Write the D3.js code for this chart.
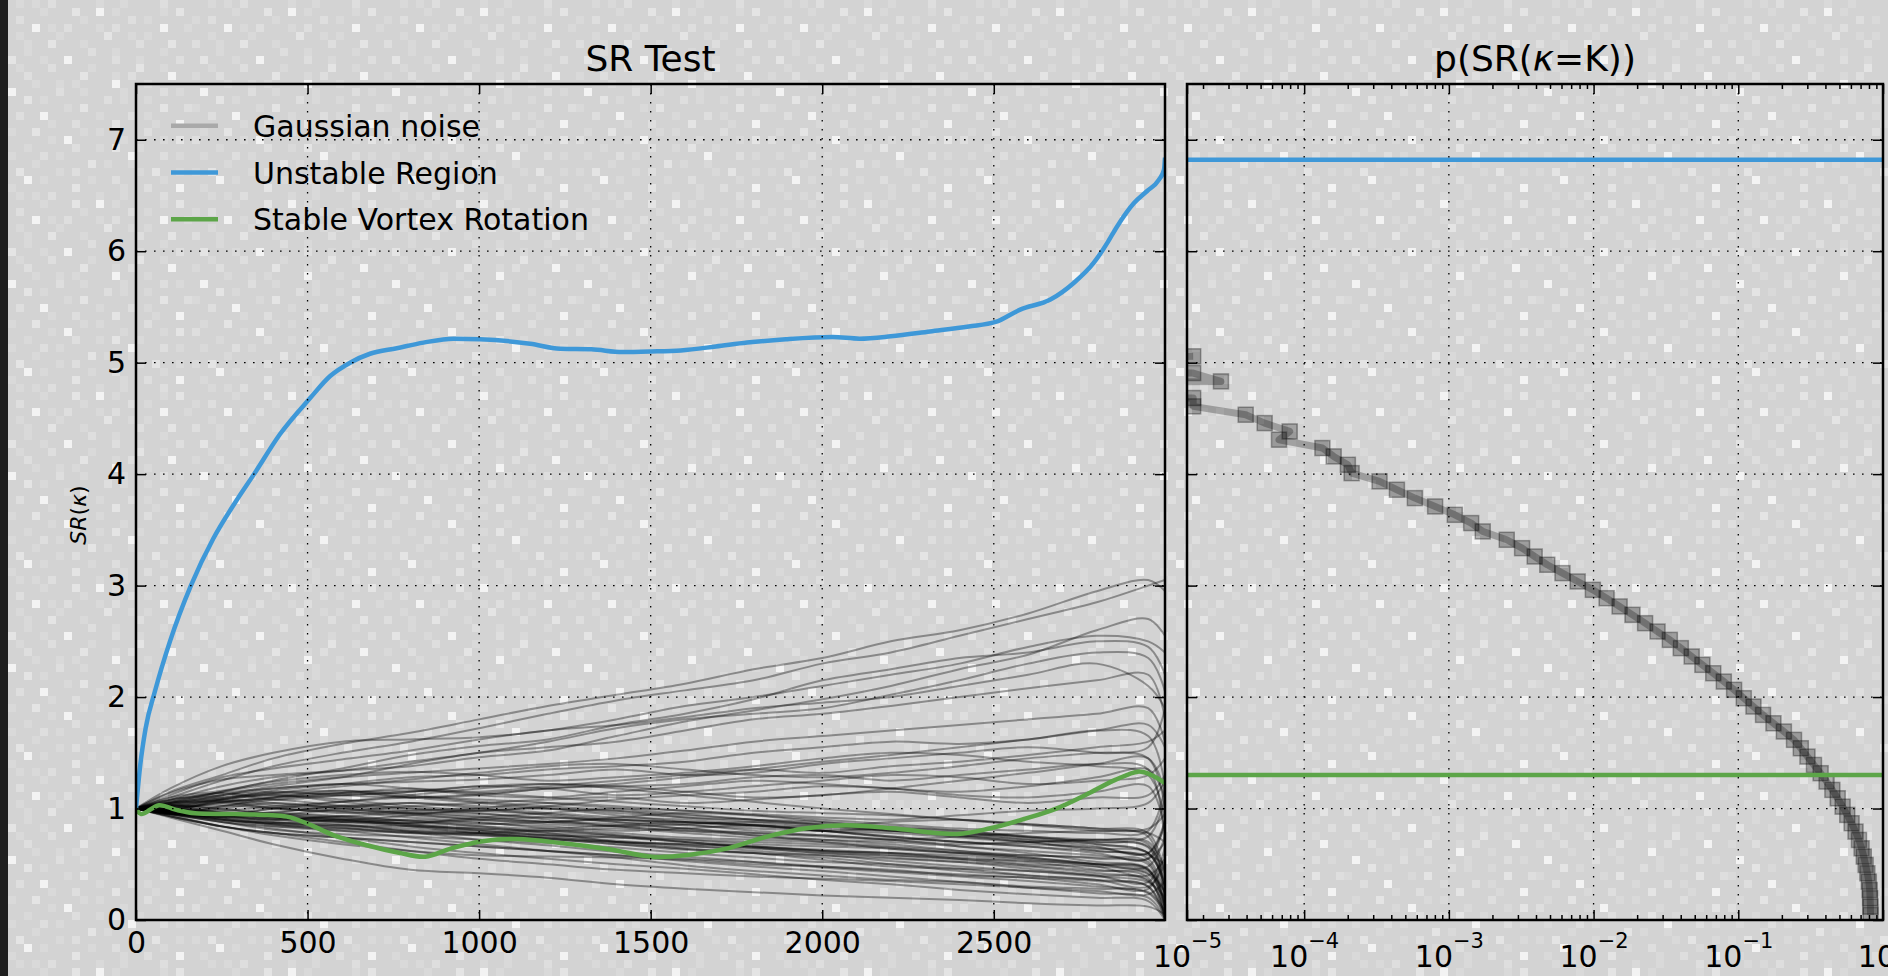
<!DOCTYPE html>
<html><head><meta charset="utf-8">
<script src="https://cdn.jsdelivr.net/npm/d3@7"></script>
<style>html,body{margin:0;padding:0;background:#d3d3d3;overflow:hidden}</style>
</head><body><svg id="c" width="1888" height="976"></svg>
<script>
// ---------------- DATA ----------------
const xTicks = [0, 500, 1000, 1500, 2000, 2500];
const yTicks = [0, 1, 2, 3, 4, 5, 6, 7];
const legendLabels = ["Gaussian noise", "Unstable Region", "Stable Vortex Rotation"];

const blueX = [0,3,12,28,55,99,160,225,290,344,420,507,566,624,682,760,838,925,1002,1149,1236,1327,1417,1501,1588,1690,1781,1894,2030,2109,2200,2314,2427,2505,2577,2665,2733,2791,2830,2859,2908,2947,2981,2996,2999];
const blueY = [1.0,1.1,1.38,1.72,2.05,2.5,3.0,3.42,3.75,4.0,4.36,4.68,4.88,5.0,5.08,5.13,5.18,5.215,5.21,5.17,5.125,5.12,5.095,5.10,5.11,5.145,5.18,5.21,5.23,5.215,5.236,5.28,5.325,5.365,5.476,5.566,5.715,5.895,6.07,6.22,6.43,6.54,6.64,6.73,6.84];

const greenX = [0,15,67,115,172,287,383,440,498,575,670,766,843,919,1015,1111,1245,1379,1504,1609,1724,1839,1954,2069,2203,2394,2490,2586,2682,2777,2854,2921,2959,2999];
const greenY = [1.0,0.95,1.03,0.99,0.957,0.951,0.942,0.927,0.867,0.762,0.673,0.604,0.568,0.643,0.709,0.727,0.688,0.634,0.568,0.583,0.643,0.748,0.823,0.85,0.823,0.772,0.823,0.904,1.0,1.137,1.257,1.331,1.301,1.227];

const noiseX = [0,100,250,400,600,800,1000,1200,1400,1600,1800,2000,2200,2400,2600,2800,2950,2999];
const noiseY = [
 [1,1.15,1.3,1.45,1.58,1.68,1.8,1.92,2.02,2.12,2.25,2.35,2.5,2.6,2.75,2.95,3.05,2.95],
 [1,1.1,1.25,1.38,1.5,1.6,1.72,1.85,1.97,2.06,2.15,2.3,2.4,2.55,2.7,2.85,3.0,3.05],
 [1,1.18,1.38,1.5,1.6,1.62,1.64,1.7,1.8,1.92,2.0,2.1,2.2,2.3,2.45,2.55,2.5,2.4],
 [1,1.05,1.15,1.25,1.36,1.48,1.56,1.62,1.75,1.85,1.98,2.15,2.25,2.35,2.4,2.5,2.45,2.2],
 [1,1.12,1.28,1.36,1.44,1.52,1.62,1.7,1.75,1.82,1.9,1.95,2.0,2.1,2.2,2.3,2.1,1.9],
 [1,1.08,1.2,1.28,1.34,1.42,1.5,1.6,1.72,1.8,1.85,1.9,2.02,2.15,2.3,2.4,2.35,2.05],
 [1,1.04,1.12,1.2,1.28,1.4,1.5,1.55,1.6,1.7,1.8,1.85,1.92,2.0,2.08,2.15,2.2,1.8],
 [1,1.14,1.26,1.3,1.34,1.38,1.46,1.52,1.65,1.78,1.88,1.98,2.1,2.25,2.38,2.6,2.7,2.55],
 [1,1.06,1.15,1.22,1.28,1.32,1.36,1.4,1.45,1.52,1.6,1.65,1.7,1.75,1.8,1.85,1.9,1.6],
 [1,0.98,1.08,1.16,1.22,1.28,1.3,1.35,1.38,1.42,1.5,1.55,1.6,1.58,1.62,1.7,1.65,1.2],
 [1,1.08,1.12,1.18,1.22,1.24,1.26,1.3,1.35,1.3,1.32,1.4,1.45,1.5,1.55,1.5,1.45,1.0],
 [1,1.04,1.09,1.13,1.14,1.18,1.15,1.2,1.25,1.3,1.35,1.32,1.38,1.42,1.48,1.55,1.6,1.7],
 [1,0.95,1.02,1.1,1.16,1.1,1.12,1.18,1.2,1.22,1.28,1.3,1.25,1.3,1.35,1.4,1.35,0.6],
 [1,1.07,1.14,1.08,1.12,1.15,1.2,1.18,1.12,1.15,1.2,1.25,1.3,1.28,1.22,1.25,1.3,1.45],
 [1,1.1,1.16,1.24,1.3,1.33,1.3,1.25,1.28,1.32,1.38,1.45,1.5,1.48,1.42,1.38,1.3,0.9],
 [1,0.99,1.05,1.0,0.98,1.02,1.05,1.08,1.1,1.05,1.08,1.12,1.15,1.1,1.05,1.1,1.12,1.3],
 [1,1.01,1.08,1.12,1.06,1.0,0.98,1.02,1.08,1.12,1.15,1.2,1.18,1.12,1.1,1.15,1.2,0.8],
 [1,0.96,0.93,1.0,1.06,1.12,1.18,1.22,1.2,1.15,1.1,1.12,1.18,1.25,1.32,1.4,1.45,1.15],
 [1,1.05,1.1,1.14,1.2,1.26,1.32,1.38,1.4,1.35,1.3,1.28,1.32,1.38,1.45,1.5,1.55,1.9],
 [1,1.08,1.14,1.18,1.22,1.18,1.12,1.1,1.15,1.2,1.25,1.22,1.18,1.15,1.2,1.28,1.35,1.1],
 [1,1.01,0.97,0.93,0.9,0.94,1.0,1.05,1.02,0.98,0.95,0.92,0.9,0.94,0.98,1.0,1.05,1.25],
 [1,1.06,1.12,1.15,1.12,1.1,1.13,1.18,1.22,1.28,1.35,1.42,1.48,1.55,1.62,1.7,1.75,1.55],
 [1,1.0,0.98,1.02,1.06,1.1,1.08,1.05,1.0,0.95,0.9,0.85,0.8,0.76,0.72,0.68,0.6,0.3],
 [1,1.03,0.96,0.94,1.0,1.05,1.02,1.0,0.98,0.94,0.9,0.86,0.8,0.75,0.7,0.62,0.55,0.2],
 [1,0.96,0.92,0.96,1.02,0.98,0.95,0.92,0.9,0.88,0.85,0.8,0.75,0.7,0.66,0.62,0.58,0.5],
 [1,1.03,1.08,1.05,1.0,0.96,0.98,1.0,0.96,0.92,0.88,0.84,0.8,0.78,0.74,0.7,0.66,0.4],
 [1,0.98,1.02,1.08,1.14,1.16,1.14,1.1,1.06,1.02,0.98,0.96,0.94,0.9,0.86,0.82,0.78,0.7],
 [1,1.0,1.06,1.1,1.12,1.15,1.2,1.22,1.18,1.12,1.06,1.0,0.95,0.9,0.85,0.8,0.75,0.15],
 [1,0.95,0.88,0.84,0.82,0.8,0.78,0.76,0.74,0.72,0.7,0.68,0.65,0.6,0.55,0.5,0.45,0.1],
 [1,0.94,0.84,0.78,0.74,0.7,0.66,0.62,0.58,0.55,0.52,0.48,0.44,0.41,0.38,0.35,0.3,0.05],
 [1,0.97,0.92,0.88,0.85,0.84,0.82,0.8,0.82,0.78,0.74,0.72,0.7,0.66,0.62,0.58,0.55,0.7],
 [1,0.93,0.84,0.78,0.74,0.7,0.66,0.62,0.58,0.53,0.48,0.44,0.39,0.34,0.29,0.24,0.2,0.02],
 [1,0.98,0.94,0.9,0.86,0.8,0.77,0.74,0.7,0.68,0.65,0.6,0.58,0.55,0.5,0.48,0.42,0.25],
 [1,1.0,0.95,0.92,0.88,0.9,0.87,0.84,0.8,0.82,0.85,0.8,0.75,0.7,0.68,0.65,0.6,0.9],
 [1,0.96,0.9,0.87,0.9,0.86,0.81,0.78,0.75,0.7,0.65,0.62,0.6,0.55,0.52,0.45,0.38,0.0],
 [1,0.92,0.8,0.68,0.55,0.45,0.42,0.38,0.32,0.28,0.25,0.22,0.2,0.18,0.15,0.13,0.12,0.05],
 [1,0.98,0.94,0.92,0.89,0.87,0.9,0.92,0.88,0.85,0.82,0.8,0.82,0.8,0.75,0.72,0.7,0.45],
 [1,0.96,0.93,0.96,0.93,0.88,0.84,0.82,0.85,0.88,0.85,0.8,0.78,0.74,0.7,0.72,0.75,1.1],
 [1,0.93,0.84,0.76,0.68,0.62,0.58,0.57,0.56,0.54,0.5,0.48,0.45,0.4,0.38,0.32,0.28,0.6],
 [1,0.99,0.96,0.92,0.88,0.84,0.8,0.76,0.71,0.67,0.62,0.58,0.55,0.52,0.48,0.42,0.35,0.12],
 [1,1.03,1.0,0.95,0.91,0.89,0.86,0.88,0.9,0.86,0.8,0.76,0.72,0.68,0.7,0.72,0.68,0.3],
 [1,0.95,0.88,0.81,0.77,0.75,0.72,0.69,0.65,0.6,0.56,0.52,0.5,0.46,0.4,0.36,0.3,0.5],
 [1,0.95,0.88,0.82,0.74,0.66,0.6,0.55,0.5,0.46,0.41,0.36,0.32,0.27,0.23,0.2,0.17,0.0],
 [1,0.97,0.92,0.86,0.8,0.74,0.68,0.62,0.56,0.49,0.44,0.4,0.36,0.34,0.3,0.28,0.25,0.08],
 [1,0.96,0.93,0.9,0.93,0.96,0.93,0.88,0.84,0.8,0.78,0.75,0.72,0.75,0.78,0.8,0.82,0.95],
 [1,0.99,0.94,0.88,0.83,0.78,0.76,0.73,0.68,0.63,0.6,0.58,0.53,0.48,0.44,0.39,0.34,0.2],
 [1,0.93,0.84,0.78,0.7,0.62,0.55,0.5,0.45,0.42,0.39,0.37,0.35,0.32,0.29,0.26,0.23,0.35],
 [1,0.98,0.95,0.93,0.9,0.84,0.78,0.74,0.7,0.68,0.66,0.62,0.58,0.54,0.49,0.44,0.41,0.15],
 [1,0.96,0.9,0.86,0.82,0.78,0.78,0.8,0.76,0.7,0.66,0.63,0.6,0.56,0.53,0.5,0.48,0.75],
 [1,0.95,0.9,0.87,0.85,0.79,0.72,0.67,0.61,0.57,0.52,0.47,0.43,0.39,0.35,0.3,0.24,0.05],
 [1,1.03,1.08,1.12,1.08,1.02,0.98,0.95,0.9,0.88,0.85,0.82,0.8,0.78,0.75,0.7,0.65,0.2],
 [1,1.0,1.05,1.1,1.14,1.1,1.05,1.0,0.94,0.88,0.84,0.8,0.74,0.7,0.66,0.6,0.55,0.9],
 [1,0.97,1.0,1.05,1.0,0.95,0.9,0.88,0.86,0.82,0.76,0.7,0.64,0.6,0.58,0.55,0.5,0.1],
 [1,1.05,1.1,1.14,1.16,1.12,1.06,1.02,0.98,0.92,0.9,0.88,0.84,0.8,0.74,0.68,0.6,0.35],
 [1,0.98,0.95,1.0,1.03,1.0,0.96,0.9,0.84,0.8,0.76,0.72,0.68,0.62,0.56,0.5,0.45,0.0],
 [1,1.02,1.06,1.08,1.02,0.96,0.92,0.88,0.92,0.96,0.94,0.9,0.86,0.82,0.8,0.78,0.8,1.2],
 [1,0.95,0.93,0.97,1.02,1.05,1.0,0.94,0.88,0.82,0.78,0.76,0.72,0.66,0.6,0.52,0.46,0.15],
 [1,1.03,0.99,0.95,0.9,0.85,0.8,0.76,0.74,0.7,0.66,0.62,0.6,0.58,0.54,0.48,0.4,0.55],
 [1,1.0,0.96,0.91,0.88,0.87,0.92,0.96,1.0,0.98,0.94,0.88,0.82,0.76,0.7,0.64,0.6,0.3],
 [1,0.97,0.91,0.86,0.84,0.82,0.78,0.73,0.68,0.64,0.6,0.56,0.5,0.44,0.4,0.36,0.3,0.0],
 [1,1.02,1.07,1.03,0.98,0.94,0.9,0.86,0.84,0.86,0.88,0.86,0.82,0.78,0.72,0.66,0.6,0.85],
 [1,0.98,0.94,0.9,0.93,0.89,0.84,0.78,0.7,0.64,0.6,0.54,0.48,0.46,0.44,0.4,0.36,0.05],
 [1,1.05,1.06,1.01,0.96,0.98,1.0,0.96,0.92,0.9,0.86,0.84,0.88,0.9,0.86,0.82,0.78,0.4],
 [1,0.95,0.9,0.84,0.8,0.79,0.76,0.72,0.7,0.66,0.64,0.6,0.56,0.52,0.46,0.4,0.34,0.65],
 [1,1.01,1.03,1.0,0.97,0.92,0.88,0.82,0.78,0.74,0.72,0.7,0.66,0.62,0.58,0.56,0.52,0.1],
 [1,0.97,0.93,0.95,0.92,0.86,0.82,0.8,0.76,0.72,0.68,0.66,0.64,0.6,0.56,0.5,0.44,0.25]
];

// histogram of final SR values (right panel): SR bin centres and log10 probability (null = empty bin)
const histSR = [0.045,0.120,0.195,0.269,0.344,0.419,0.494,0.569,0.643,0.718,0.793,0.868,0.943,1.017,1.092,1.167,1.242,1.317,1.391,1.466,1.541,1.616,1.691,1.765,1.840,1.915,1.990,2.065,2.139,2.214,2.289,2.364,2.439,2.513,2.588,2.663,2.738,2.813,2.887,2.962,3.037,3.112,3.187,3.261,3.336,3.411,3.486,3.561,3.635,3.710,3.785,3.860,3.935,4.009,4.084,4.159,4.234,4.309,4.383,4.458,4.533,4.608,4.683,4.757,4.832,4.907,4.982,5.057];
const histLog10P = [-0.086,-0.087,-0.089,-0.092,-0.098,-0.108,-0.12,-0.133,-0.148,-0.166,-0.19,-0.217,-0.247,-0.279,-0.313,-0.35,-0.39,-0.431,-0.477,-0.522,-0.568,-0.615,-0.685,-0.757,-0.829,-0.895,-0.962,-1.029,-1.1,-1.173,-1.248,-1.322,-1.397,-1.473,-1.558,-1.644,-1.731,-1.82,-1.91,-2.005,-2.11,-2.215,-2.32,-2.407,-2.494,-2.6,-2.766,-2.846,-2.959,-3.095,-3.235,-3.359,-3.479,-3.672,-3.698,-3.796,-3.874,-4.174,-4.1,-4.273,-4.404,-4.767,-4.767,null,-4.575,-4.767,null,-4.767];
const unstableLevel = 6.82;
const stableLevel = 1.30;
const pDomain = [1.55e-5, 1];
const pTicks = [1.55e-5, 1e-4, 1e-3, 1e-2, 1e-1, 1];
const pTickExp = ["\u22125", "\u22124", "\u22123", "\u22122", "\u22121", "0"];

// background texture tile (decoration)
const tile = [
 "..a.a.b.....a..a....b...",
 ".....a...c..w.a.....a.c.",
 "a.b.......a.....b.a.....",
 "....w.a.b...a.b.....w..a",
 "..a....a.....c..a.a.....",
 "b..a..c...a......b...c..",
 "...a.......b..a.....a...",
 ".c...a..w.....b..a....b.",
 "..a...b....a.....c..a...",
 "a..b......c...a.b....w..",
 "....a..a.a....w...a.....",
 ".w.....b..a....a....b.a.",
 "...c.a.......b.a..a.....",
 "a.......a.c.........c..b",
 "..b..w......a...b.a.....",
 "......a..b....c....a..w.",
 ".a..c.....a.a.....b.....",
 "b.....a.w......a....a.c.",
 "...a.....b..a.c..a......",
 ".a...b.a........w...b.a.",
 "....a......c.a..a.......",
 "a.c....a.b.......a.c..a.",
 "...w.a.....a..b.....a...",
 ".a.......c.....a..b...w."
];

// ---------------- DRAWING ----------------
const FONT = "DejaVu Sans";
const BLUE = "#3e98d8", GREEN = "#5ca548";
const svg = d3.select("#c");
const W = 1888, H = 976;
const PL = {x0:136, x1:1165, y0:84, y1:920};
const PR = {x0:1187, x1:1883, y0:84, y1:920};

const defs = svg.append("defs");
const shade = {".":"#d3d3d3","a":"#d9d9d9","b":"#dedede","c":"#e4e4e4","w":"#f3f3f3"};
const TS = tile.length*8, TW = tile[0].length*8;
const pat = defs.append("pattern").attr("id","tex").attr("patternUnits","userSpaceOnUse").attr("width",TW).attr("height",TS);
pat.append("rect").attr("width",TW).attr("height",TS).attr("fill",shade["."]);
tile.forEach((row,r)=>[...row].forEach((ch,c)=>{ if(ch!==".") pat.append("rect").attr("x",c*8).attr("y",r*8).attr("width",8).attr("height",8).attr("fill",shade[ch]); }));
svg.append("rect").attr("width",W).attr("height",H).attr("fill","url(#tex)");
svg.append("rect").attr("x",0).attr("y",0).attr("width",8).attr("height",H).attr("fill","#1e1e1e");

defs.append("clipPath").attr("id","clipL").append("rect").attr("x",PL.x0).attr("y",PL.y0).attr("width",PL.x1-PL.x0).attr("height",PL.y1-PL.y0);
defs.append("clipPath").attr("id","clipR").append("rect").attr("x",PR.x0).attr("y",PR.y0).attr("width",PR.x1-PR.x0).attr("height",PR.y1-PR.y0);

const x = d3.scaleLinear().domain([0,2999]).range([PL.x0,PL.x1]);
const y = d3.scaleLinear().domain([0,7.5]).range([PL.y1,PL.y0]);
const xp = d3.scaleLog().domain(pDomain).range([PR.x0,PR.x1]);

// ----- left panel lines
const gL = svg.append("g").attr("clip-path","url(#clipL)");
const noiseLine = d3.line().x((d,i)=>x(noiseX[i])).y(d=>y(d)).curve(d3.curveCatmullRom.alpha(0.5));
gL.selectAll("path.noise").data(noiseY).join("path").attr("class","noise")
  .attr("d",noiseLine).attr("fill","none").attr("stroke","#000").attr("stroke-opacity",0.36).attr("stroke-width",2);
const blueLine = d3.line().x((d,i)=>x(blueX[i])).y(d=>y(d)).curve(d3.curveMonotoneX);
gL.append("path").attr("d",blueLine(blueY)).attr("fill","none").attr("stroke",BLUE).attr("stroke-width",4.5).attr("stroke-linejoin","round");
const greenLine = d3.line().x((d,i)=>x(greenX[i])).y(d=>y(d)).curve(d3.curveCatmullRom.alpha(0.5));
gL.append("path").attr("d",greenLine(greenY)).attr("fill","none").attr("stroke",GREEN).attr("stroke-width",4.5).attr("stroke-linejoin","round");

// ----- right panel
const gR = svg.append("g").attr("clip-path","url(#clipR)");
const hist = histSR.map((s,i)=>({s, p: histLog10P[i]===null ? 0 : Math.pow(10,histLog10P[i])}));
const histLine = d3.line().x(d=>xp(Math.max(d.p,1e-9))).y(d=>y(d.s));
gR.append("path").attr("d",histLine(hist)).attr("fill","none").attr("stroke","#000").attr("stroke-opacity",0.26).attr("stroke-width",7).attr("stroke-linejoin","round");
gR.selectAll("rect.mk").data(hist.filter(d=>d.p>0)).join("rect").attr("class","mk")
  .attr("x",d=>xp(d.p)-7.5).attr("y",d=>y(d.s)-7.5).attr("width",15).attr("height",15)
  .attr("fill","#000").attr("fill-opacity",0.27).attr("stroke","#000").attr("stroke-opacity",0.32).attr("stroke-width",1.5);
gR.append("line").attr("x1",PR.x0).attr("x2",PR.x1).attr("y1",y(unstableLevel)).attr("y2",y(unstableLevel)).attr("stroke",BLUE).attr("stroke-width",4.5);
gR.append("line").attr("x1",PR.x0).attr("x2",PR.x1).attr("y1",y(stableLevel)).attr("y2",y(stableLevel)).attr("stroke",GREEN).attr("stroke-width",4.5);

// ----- grids (drawn above data, like the reference)
const grid = svg.append("g").attr("stroke","#000").attr("stroke-width",1.3).attr("stroke-dasharray","1.6,7.4").attr("fill","none");
xTicks.filter(v=>v>0).forEach(v=>grid.append("line").attr("x1",x(v)).attr("x2",x(v)).attr("y1",PL.y0).attr("y2",PL.y1));
yTicks.filter(v=>v>0).forEach(v=>grid.append("line").attr("x1",PL.x0).attr("x2",PL.x1).attr("y1",y(v)).attr("y2",y(v)));
pTicks.slice(1,-1).forEach(v=>grid.append("line").attr("x1",xp(v)).attr("x2",xp(v)).attr("y1",PR.y0).attr("y2",PR.y1));
yTicks.filter(v=>v>0).forEach(v=>grid.append("line").attr("x1",PR.x0).attr("x2",PR.x1).attr("y1",y(v)).attr("y2",y(v)));

// ----- axes
function styleAxis(g, fs){
  g.select(".domain").remove();
  g.selectAll(".tick line").attr("stroke","#000").attr("stroke-width",1.5);
  g.selectAll(".tick text").attr("font-family",FONT).attr("font-size",fs||30).attr("fill","#000");
}
const none = ()=>"";
const intFmt = d3.format("d");
svg.append("g").attr("transform",`translate(0,${PL.y1})`).call(d3.axisBottom(x).tickValues(xTicks).tickFormat(intFmt).tickSizeInner(-10).tickSizeOuter(0).tickPadding(12)).call(styleAxis);
svg.append("g").attr("transform",`translate(0,${PL.y0})`).call(d3.axisTop(x).tickValues(xTicks).tickSizeInner(-10).tickSizeOuter(0).tickFormat(none)).call(styleAxis);
svg.append("g").attr("transform",`translate(${PL.x0},0)`).call(d3.axisLeft(y).tickValues(yTicks).tickFormat(intFmt).tickSizeInner(-10).tickSizeOuter(0).tickPadding(10)).call(styleAxis);
svg.append("g").attr("transform",`translate(${PL.x1},0)`).call(d3.axisRight(y).tickValues(yTicks).tickSizeInner(-10).tickSizeOuter(0).tickFormat(none)).call(styleAxis);

svg.append("g").attr("transform",`translate(${PR.x0},0)`).call(d3.axisLeft(y).tickValues(yTicks).tickSizeInner(-10).tickSizeOuter(0).tickFormat(none)).call(styleAxis);
svg.append("g").attr("transform",`translate(${PR.x1},0)`).call(d3.axisRight(y).tickValues(yTicks).tickSizeInner(-10).tickSizeOuter(0).tickFormat(none)).call(styleAxis);
const minorP = xp.ticks().filter(v=>Math.abs(Math.log10(v)-Math.round(Math.log10(v)))>1e-6);
svg.append("g").attr("transform",`translate(0,${PR.y1})`).call(d3.axisBottom(xp).tickValues(minorP).tickSizeInner(-5).tickSizeOuter(0).tickFormat(none)).call(styleAxis);
svg.append("g").attr("transform",`translate(0,${PR.y0})`).call(d3.axisTop(xp).tickValues(minorP).tickSizeInner(-5).tickSizeOuter(0).tickFormat(none)).call(styleAxis);
svg.append("g").attr("transform",`translate(0,${PR.y0})`).call(d3.axisTop(xp).tickValues(pTicks).tickSizeInner(-10).tickSizeOuter(0).tickFormat(none)).call(styleAxis);
const bx = svg.append("g").attr("transform",`translate(0,${PR.y1})`).call(d3.axisBottom(xp).tickValues(pTicks).tickSizeInner(-10).tickSizeOuter(0).tickFormat(none)).call(styleAxis);
bx.selectAll(".tick").each(function(d,i){
  const t = d3.select(this).append("text").attr("x",0).attr("y",47).attr("text-anchor","middle")
    .attr("font-family",FONT).attr("font-size",30).attr("fill","#000");
  t.append("tspan").text("10");
  t.append("tspan").attr("dy",-19).attr("font-size",21).text(pTickExp[i]);
});

// frames
[PL,PR].forEach(P=>svg.append("rect").attr("x",P.x0).attr("y",P.y0).attr("width",P.x1-P.x0).attr("height",P.y1-P.y0)
  .attr("fill","none").attr("stroke","#000").attr("stroke-width",2.5));

// titles
svg.append("text").attr("x",(PL.x0+PL.x1)/2).attr("y",70.5).attr("text-anchor","middle").attr("font-family",FONT).attr("font-size",36).text("SR Test");
const t2 = svg.append("text").attr("x",(PR.x0+PR.x1)/2).attr("y",70.5).attr("text-anchor","middle").attr("font-family",FONT).attr("font-size",36);
t2.append("tspan").text("p(SR(");
t2.append("tspan").attr("font-style","italic").text("\u03ba");
t2.append("tspan").text("=K))");

// y label
const yl = svg.append("text").attr("transform","translate(86,515) rotate(-90)").attr("text-anchor","middle").attr("font-family",FONT).attr("font-size",22);
yl.append("tspan").attr("font-style","italic").text("SR");
yl.append("tspan").text("(");
yl.append("tspan").attr("font-style","italic").text("\u03ba");
yl.append("tspan").text(")");

// legend
const legColors = ["#a9a9a9", BLUE, GREEN];
const lg = svg.append("g");
legendLabels.forEach((lab,i)=>{
  const cy = 125.7 + i*46.8;
  lg.append("line").attr("x1",171).attr("x2",218).attr("y1",cy).attr("y2",cy).attr("stroke",legColors[i]).attr("stroke-width",4.5);
  lg.append("text").attr("x",253).attr("y",cy+11).attr("font-family",FONT).attr("font-size",30).attr("fill","#000").text(lab);
});
</script>
</body></html>
